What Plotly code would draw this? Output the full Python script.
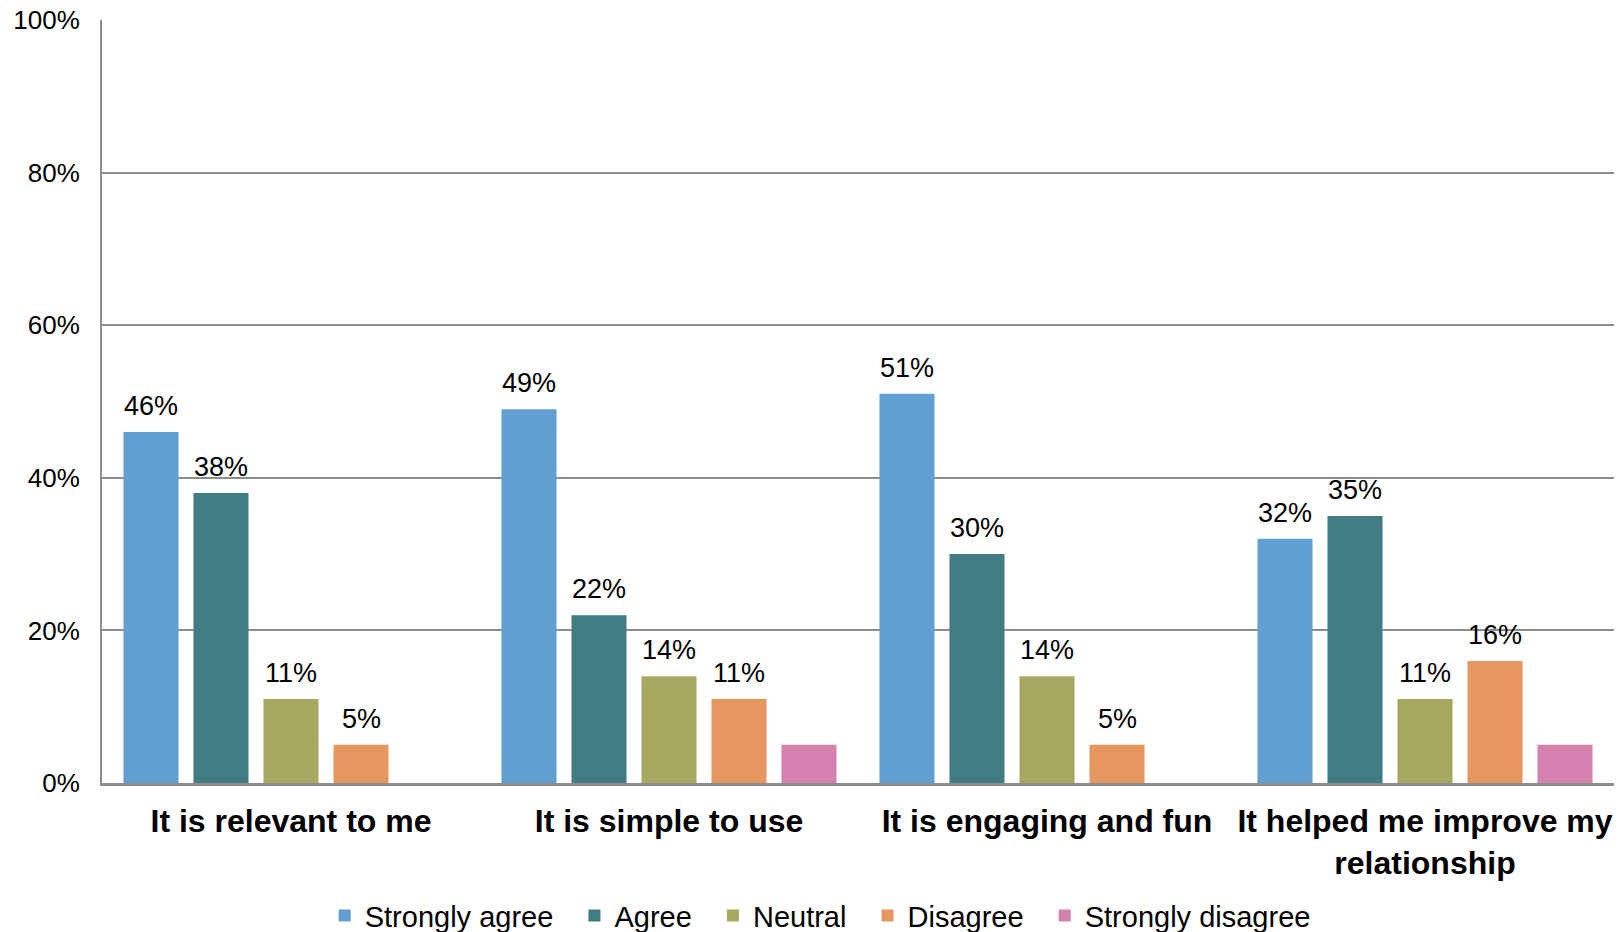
import plotly.graph_objects as go

categories = ["It is relevant to me", "It is simple to use", "It is engaging and fun",
              "It helped me improve my<br>relationship"]
series_names = ["Strongly agree", "Agree", "Neutral", "Disagree", "Strongly disagree"]
strongly_agree = [46, 49, 51, 32]
agree = [38, 22, 30, 35]
neutral = [11, 14, 14, 11]
disagree = [5, 11, 5, 16]
strongly_disagree = [None, 5, None, 5]
show_labels = [True, True, True, True, False]
colors = ["#619ED2", "#417B84", "#A7A85F", "#E5975F", "#D581B0"]

values = [strongly_agree, agree, neutral, disagree, strongly_disagree]
FONT = "Liberation Sans, Arial, sans-serif"

W, H = 1620, 932
ML, MR, MT, MB = 102, 6, 20, 149
BARGAP = 0.074
plot_w = W - ML - MR
pitch = plot_w / len(categories) * (1 - BARGAP) / len(series_names)
PAD = "\u00a0\u00a0"

fig = go.Figure()
for k, (name, vals, col) in enumerate(zip(series_names, values, colors)):
    fig.add_trace(go.Bar(
        name=name + (PAD if k < len(series_names) - 1 else ""), x=categories, y=vals,
        marker=dict(color=col, line=dict(width=0)),
    ))

annotations = []
for i, (vals, lab) in enumerate(zip(values, show_labels)):
    if not lab:
        continue
    for c, v in zip(categories, vals):
        if v is None:
            continue
        annotations.append(dict(
            x=c, y=v, xref="x", yref="y", text=f"{v}%", showarrow=False,
            xshift=(i - (len(series_names) - 1) / 2) * pitch,
            yanchor="bottom", yshift=9,
            font=dict(family=FONT, size=27, color="#000000"),
        ))

fig.update_layout(
    width=W, height=H,
    margin=dict(l=ML, r=MR, t=MT, b=MB, autoexpand=False),
    paper_bgcolor="white", plot_bgcolor="white",
    barmode="group", bargap=BARGAP, bargroupgap=0.214,
    font=dict(family=FONT, color="#000000"),
    showlegend=True,
    legend=dict(orientation="h", x=0.475, xanchor="center", y=-0.174, yanchor="middle",
                font=dict(family=FONT, size=29, color="#000000"),
                itemwidth=30, traceorder="normal"),
    annotations=annotations,
)
fig.update_yaxes(
    range=[0, 100], dtick=20, ticksuffix="%",
    showgrid=True, gridcolor="#8C8C8C", gridwidth=2,
    showline=True, linecolor="#8C8C8C", linewidth=2,
    zeroline=False, automargin=False,
    tickfont=dict(family=FONT, size=26, color="#000000"),
    ticklabelstandoff=15,
)
fig.update_xaxes(
    showline=True, linecolor="#8C8C8C", linewidth=3,
    automargin=False,
    tickfont=dict(family=FONT, size=32, color="#000000"),
    ticklabelstandoff=8,
    ticktext=[f"<b>{c}</b>" for c in categories], tickvals=categories,
)

fig.write_html("out.html", config={"displayModeBar": False},
               post_script="document.body.style.margin='0';document.body.style.overflow='hidden';")
